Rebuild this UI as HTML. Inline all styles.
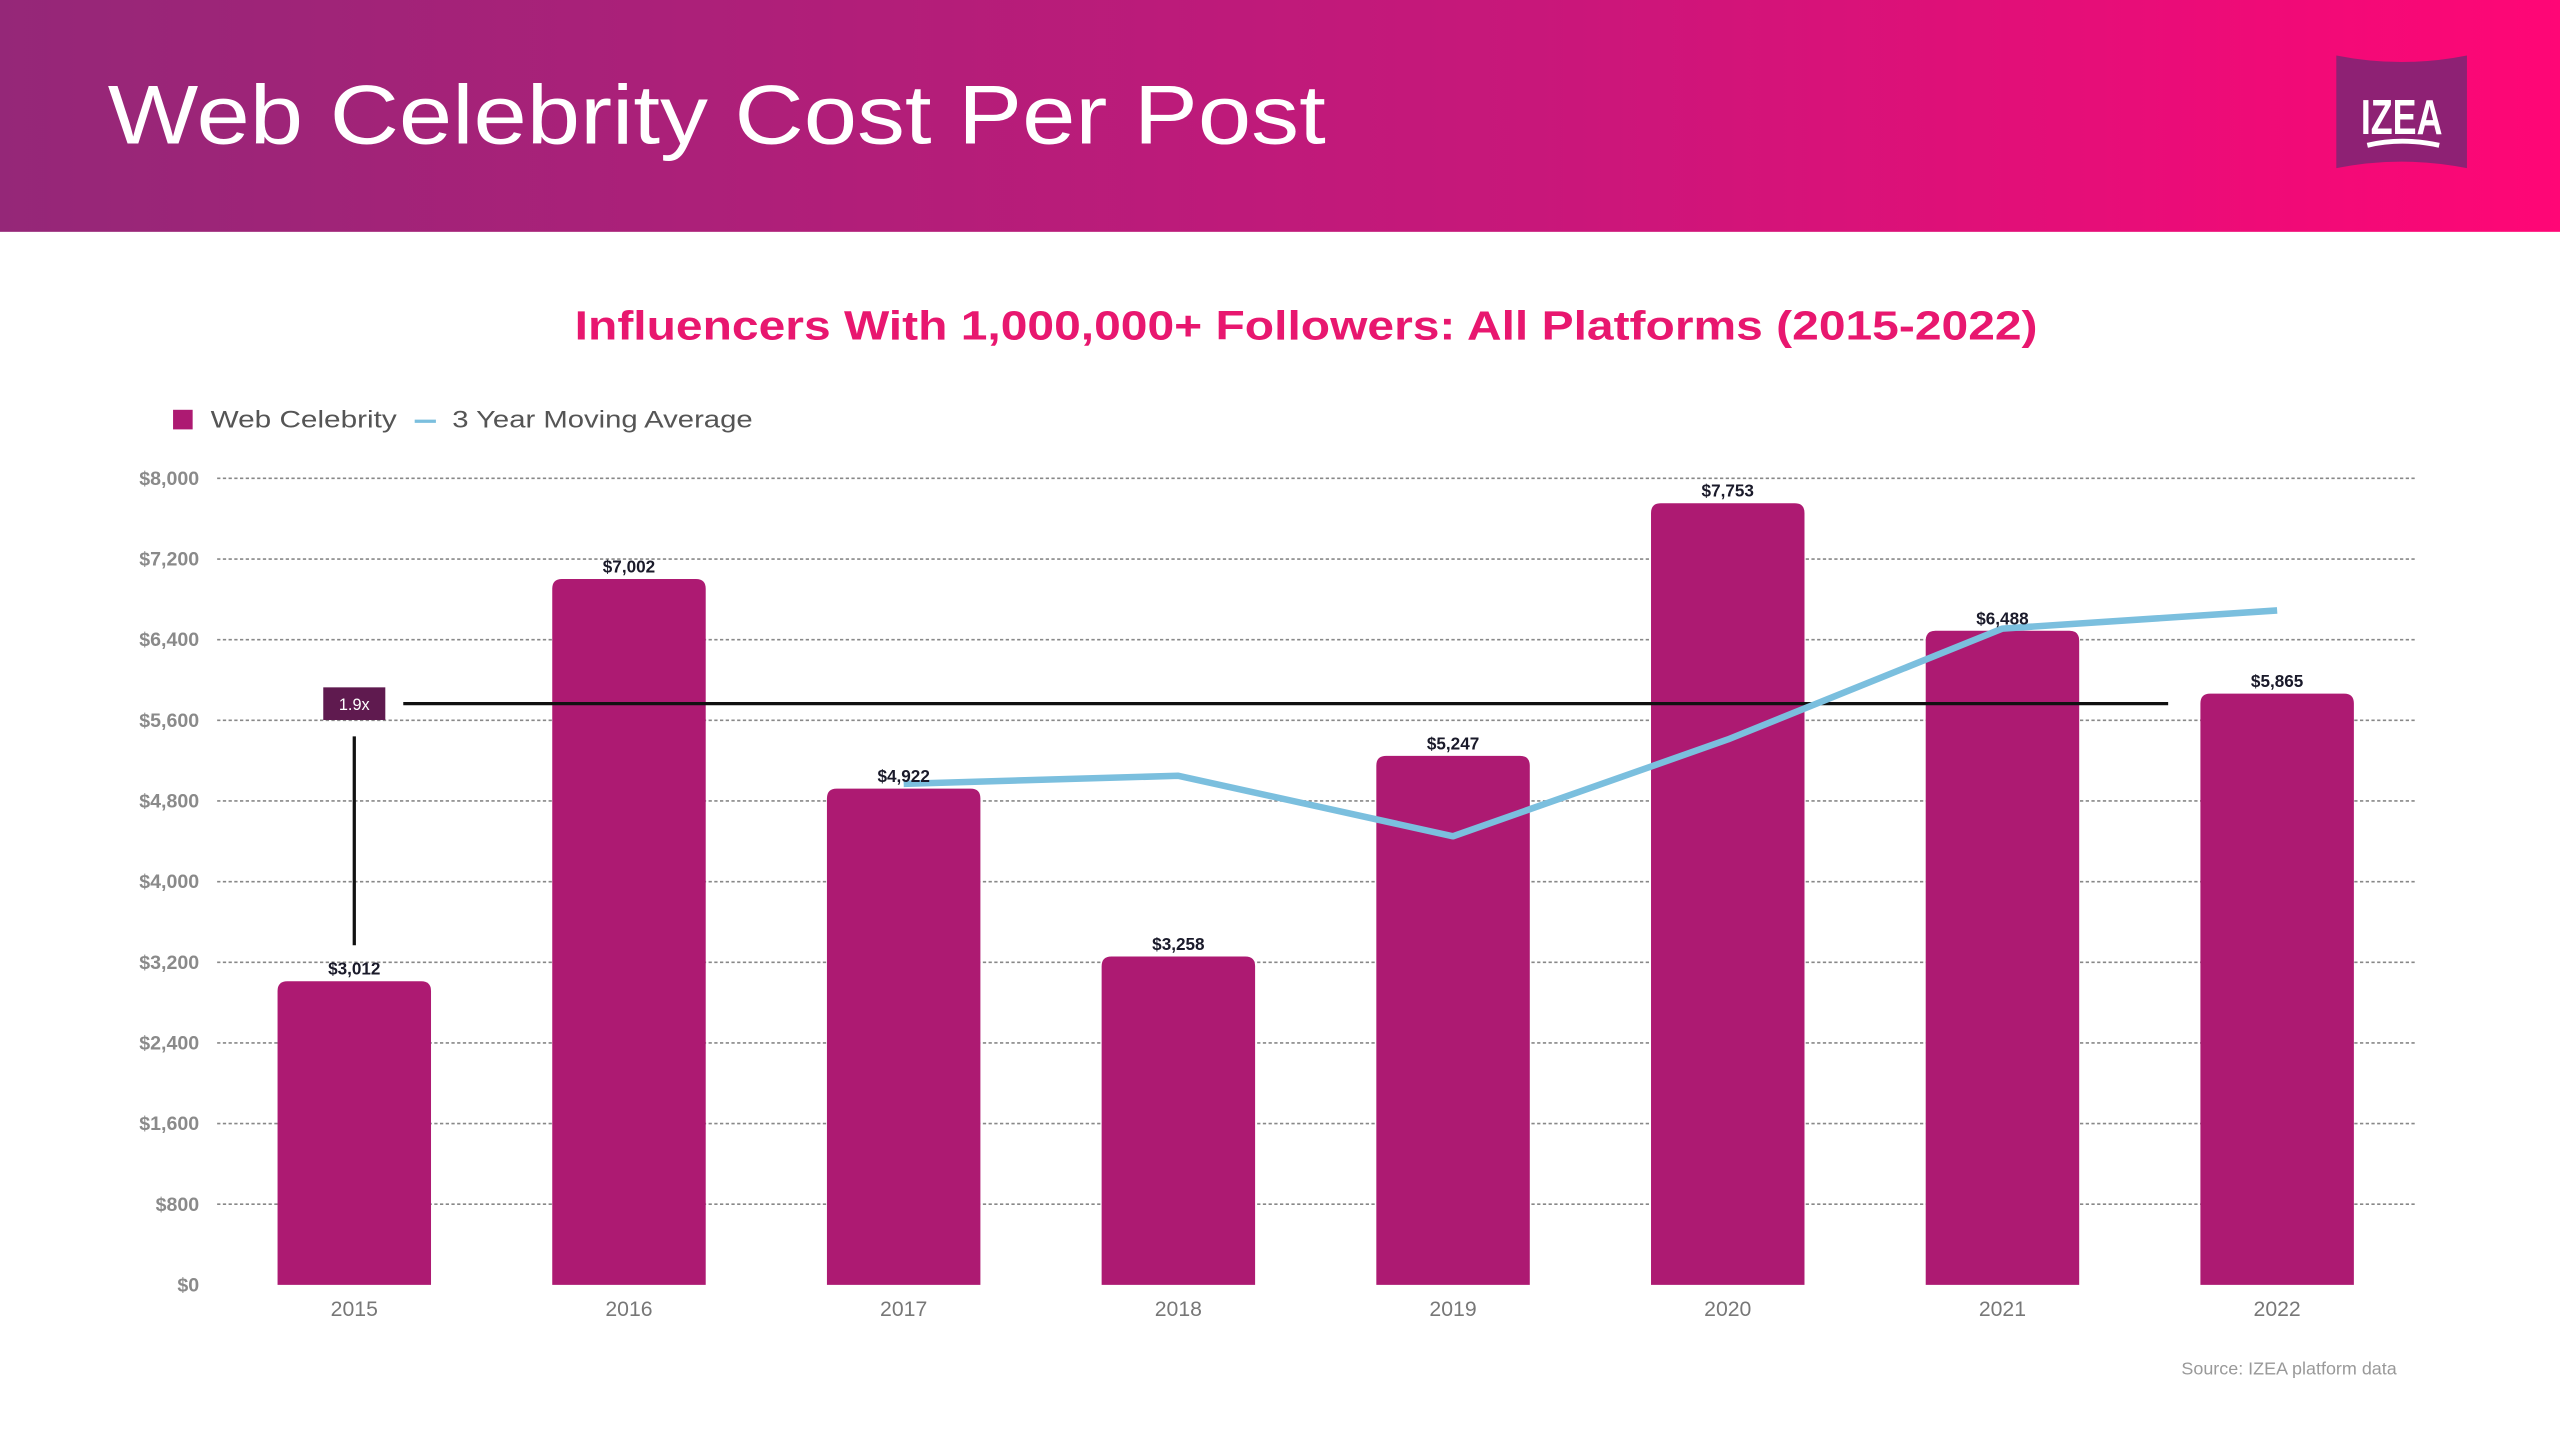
<!DOCTYPE html>
<html><head><meta charset="utf-8"><style>
html,body{margin:0;padding:0;background:#fff;}
svg{display:block;font-family:"Liberation Sans",sans-serif;}
</style></head><body>
<svg id="chart" width="2560" height="1440" viewBox="0 0 1568 882" xmlns="http://www.w3.org/2000/svg">
<defs>
<linearGradient id="hg" x1="0" x2="1" y1="0" y2="0">
<stop offset="0" stop-color="#952778"/><stop offset="0.6" stop-color="#c8177a"/><stop offset="1" stop-color="#ff0676"/>
</linearGradient>
</defs>
<rect x="0" y="0" width="1568" height="142" fill="url(#hg)"/>
<text x="66" y="88" font-size="51" fill="#fff" textLength="746" lengthAdjust="spacingAndGlyphs">Web Celebrity Cost Per Post</text>
<g>
<path d="M1431 34 Q1471 42 1511 34 L1511 103 Q1471 95 1431 103 Z" fill="#8e2174"/>
<text x="1471" y="82" font-size="30" font-weight="bold" fill="#fff" text-anchor="middle" textLength="50" lengthAdjust="spacingAndGlyphs">IZEA</text>
<path d="M1450 89 Q1471 84 1494 89" stroke="#fff" stroke-width="3" fill="none"/>
</g>
<text x="352" y="208" font-size="25" font-weight="bold" fill="#e8176f" textLength="896" lengthAdjust="spacingAndGlyphs">Influencers With 1,000,000+ Followers: All Platforms (2015-2022)</text>
<g>
<rect x="106" y="251" width="12" height="12" fill="#ad1a72"/>
<text x="129" y="262" font-size="15" fill="#555" textLength="114" lengthAdjust="spacingAndGlyphs">Web Celebrity</text>
<line x1="254" y1="258" x2="267" y2="258" stroke="#7bbfde" stroke-width="2"/>
<text x="277" y="262" font-size="15" fill="#555" textLength="184" lengthAdjust="spacingAndGlyphs">3 Year Moving Average</text>
</g>
<g id="grid"></g><g id="bars"></g><g id="annot"></g><g id="line"></g><g id="labels"></g>
<text x="1468" y="842" font-size="11" fill="#999" text-anchor="end">Source: IZEA platform data</text>
</svg>
<script>
const categories=['2015','2016','2017','2018','2019','2020','2021','2022'];
const values=[3012,7002,4922,3258,5247,7753,6488,5865];
const valueLabels=['$3,012','$7,002','$4,922','$3,258','$5,247','$7,753','$6,488','$5,865'];
const movingAvg=[null,null,4970,5050,4450,5410,6510,6690];
const yTicks=[0,800,1600,2400,3200,4000,4800,5600,6400,7200,8000];
const yTickLabels=['$0','$800','$1,600','$2,400','$3,200','$4,000','$4,800','$5,600','$6,400','$7,200','$8,000'];
const NS='http://www.w3.org/2000/svg';
const y0=787,y1=293,vmax=8000,x0=217,step=168.25,bw=94;
const y=v=>y0-(v/vmax)*(y0-y1);
const x=i=>x0+i*step;
function mk(t,a,p){const e=document.createElementNS(NS,t);for(const k in a)e.setAttribute(k,a[k]);p.appendChild(e);return e;}
const g=document.getElementById('grid');
yTicks.forEach((t,i)=>{
 if(t>0){const l=mk('line',{x1:133,x2:1479,y1:y(t),y2:y(t),stroke:'#888','stroke-width':1,'stroke-dasharray':'2,1.5'},g);
 
 }
 const tx=mk('text',{x:122,y:y(t)+4,'font-size':12,'font-weight':'bold',fill:'#8a8a8a','text-anchor':'end'},g);
 tx.textContent=yTickLabels[i];
 
 
});
const b=document.getElementById('bars'),lb=document.getElementById('labels');
values.forEach((v,i)=>{
 const top=y(v),h=y0-top,r=6,l=x(i)-bw/2;
 const p=mk('path',{d:`M${l} ${y0}V${top+r}Q${l} ${top} ${l+r} ${top}H${l+bw-r}Q${l+bw} ${top} ${l+bw} ${top+r}V${y0}Z`,fill:'#ad1a72'},b);
 
 
 const t=mk('text',{x:x(i),y:top-4,'font-size':10.5,'font-weight':'bold',fill:'#1a1a2a','text-anchor':'middle'},lb);
 t.textContent=valueLabels[i];
 
 
 const c=mk('text',{x:x(i),y:806,'font-size':13,fill:'#777','text-anchor':'middle'},lb);
 c.textContent=categories[i];
 
 
});
const pts=movingAvg.map((v,i)=>v==null?null:[x(i),y(v)]).filter(p=>p);
const ln=mk('polyline',{points:pts.map(p=>p.join(',')).join(' '),fill:'none',stroke:'#7bbfde','stroke-width':4,'stroke-linejoin':'round'},document.getElementById('line'));


const a=document.getElementById('annot');
const hl=mk('line',{x1:247,x2:1328,y1:431,y2:431,stroke:'#111','stroke-width':2},a);


const vl=mk('line',{x1:217,x2:217,y1:451,y2:579,stroke:'#111','stroke-width':2},a);


const bx=mk('rect',{x:198,y:421,width:38,height:20,fill:'#5f1a4f'},a);


const bt=mk('text',{x:217,y:435,'font-size':10,fill:'#fff','text-anchor':'middle'},a);
bt.textContent='1.9x';


</script>
</body></html>
